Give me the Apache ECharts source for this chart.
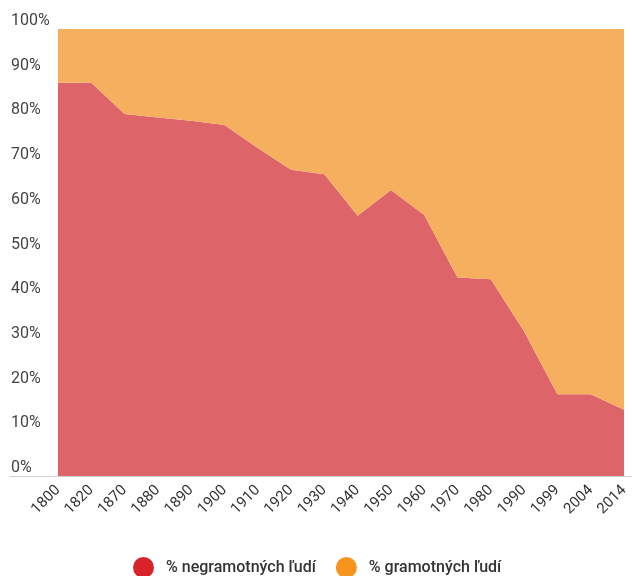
<!DOCTYPE html>
<html><head><meta charset="utf-8">
<script src="https://cdn.jsdelivr.net/npm/echarts@6/dist/echarts.min.js"></script>
<style>html,body{margin:0;padding:0;background:#fff}#c{width:632px;height:576px}</style>
</head><body><div id="c"></div>
<script>
const years = ['1800','1820','1870','1880','1890','1900','1910','1920','1930','1940','1950','1960','1970','1980','1990','1999','2004','2014'];
const illiterate = [88, 88, 81, 80.2, 79.5, 78.5, 73.4, 68.5, 67.5, 58.2, 64, 58.4, 44.4, 44, 32.3, 18.3, 18.3, 14.8];
const literate = [12, 12, 19, 19.8, 20.5, 21.5, 26.6, 31.5, 32.5, 41.8, 36, 41.6, 55.6, 56, 67.7, 81.7, 81.7, 85.2];
const yTicks = [0, 10, 20, 30, 40, 50, 60, 70, 80, 90, 100];
const seriesNames = ['% negramotných ľudí', '% gramotných ľudí'];

const chart = echarts.init(document.getElementById('c'), null, {renderer: 'canvas'});
const G = {left: 58, right: 8, top: 29, bottom: 100};
chart.setOption({
  animation: false,
  textStyle: {fontFamily: 'Roboto'},
  grid: G,
  legend: {
    left: 128, top: 552, itemWidth: 21, itemHeight: 21, itemGap: 20, icon: 'circle',
    textStyle: {fontSize: 16, fontWeight: 500, color: '#333', fontFamily: 'Roboto', padding: [0, 0, 0, 7]},
    data: seriesNames
  },
  xAxis: {
    type: 'category', data: years, boundaryGap: false,
    axisLine: {show: false}, axisTick: {show: false},
    axisLabel: {rotate: 45, fontSize: 15, color: '#333', margin: 12, interval: 0}
  },
  yAxis: {
    type: 'value', min: yTicks[0], max: yTicks[yTicks.length - 1], interval: 10,
    axisLine: {show: false}, axisTick: {show: false}, splitLine: {show: false},
    axisLabel: {formatter: '{value}%', fontSize: 16, color: '#444', align: 'left', margin: 47,
      verticalAlign: 'bottom', padding: [0, 0, 0, 0]}
  },
  graphic: [{type: 'line', shape: {x1: 10, y1: 476.5, x2: 632, y2: 476.5}, style: {stroke: '#d0d0d0', lineWidth: 1}, z: 10}],
  series: [
    {name: seriesNames[0], type: 'line', stack: 't', data: illiterate, symbol: 'none',
      color: '#d9232b', lineStyle: {width: 0}, areaStyle: {color: '#dd656a', opacity: 1}},
    {name: seriesNames[1], type: 'line', stack: 't', data: literate, symbol: 'none',
      color: '#f7941d', lineStyle: {width: 0}, areaStyle: {color: '#f6af5f', opacity: 1}}
  ]
});
</script></body></html>
